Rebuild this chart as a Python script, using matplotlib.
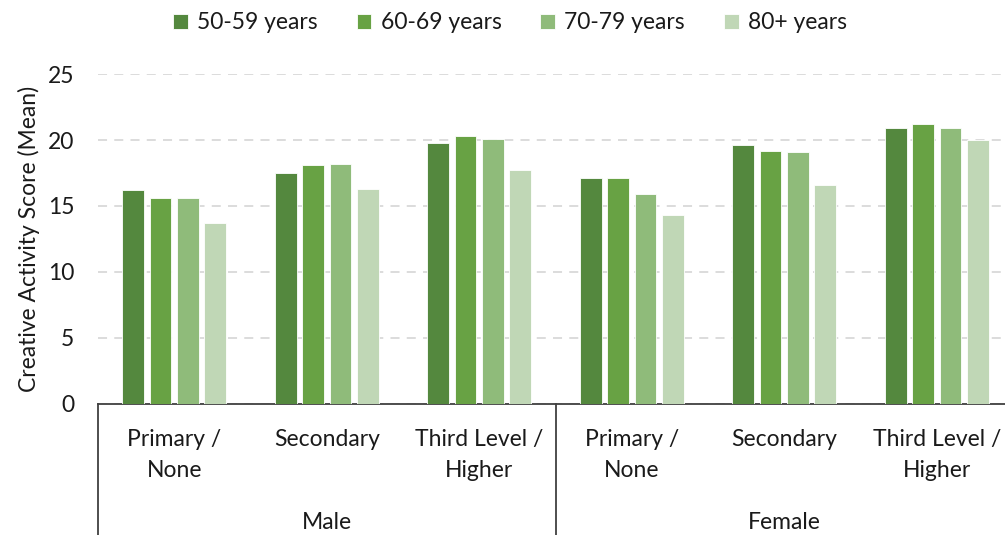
import numpy as np
import matplotlib as mpl
mpl.use("Agg")
import matplotlib.pyplot as plt

plt.rcParams["font.family"] = ["Lato", "DejaVu Sans"]

# data
genders = ["Male", "Female"]
education = ["Primary /\nNone", "Secondary", "Third Level /\nHigher"]
age_groups = ["50-59 years", "60-69 years", "70-79 years", "80+ years"]
colors = ["#54883e", "#68a244", "#8fbb7a", "#c0d7b6"]

# per age group: Male (Primary, Secondary, Third), Female (same)
scores = {
    "50-59 years": [16.2, 17.5, 19.8, 17.1, 19.6, 20.9],
    "60-69 years": [15.6, 18.1, 20.3, 17.1, 19.2, 21.2],
    "70-79 years": [15.6, 18.2, 20.1, 15.9, 19.1, 20.9],
    "80+ years":   [13.7, 16.3, 17.7, 14.3, 16.6, 20.0],
}

FS = 16.5
TXT = "#1a1a1a"
W, H = 1005, 535
fig = plt.figure(figsize=(W / 100, H / 100), dpi=100)
ax = fig.add_axes([98 / W, (H - 404) / H, (1013 - 98) / W, (404 - 74) / H])

n_cat = len(genders) * len(education)
x = np.arange(n_cat)
step = 0.179
width = 0.142
for i, age in enumerate(age_groups):
    off = (i - 1.5) * step
    ax.bar(x + off, scores[age], width, color=colors[i], label=age,
           edgecolor="#ffffff", linewidth=0.6, zorder=3)

ax.set_xlim(-0.5, n_cat - 0.5)
ax.set_ylim(0, 25)
ax.set_yticks(np.arange(0, 26, 5))
ax.yaxis.grid(True, linestyle=(0, (5, 4)), color="#d9d9d9", linewidth=1.3, zorder=0)
ax.set_axisbelow(True)
for side in ["left", "right", "top"]:
    ax.spines[side].set_visible(False)
ax.spines["bottom"].set_color("#404040")
ax.spines["bottom"].set_linewidth(1.3)

ax.tick_params(axis="y", length=0, pad=17, labelsize=FS, labelcolor=TXT)
ax.set_xticks(x)
ax.set_xticklabels(education * len(genders), fontsize=FS, color=TXT,
                   linespacing=1.6)
ax.tick_params(axis="x", length=0, pad=18)

ax.set_ylabel("Creative Activity Score (Mean)", fontsize=FS, color=TXT,
              labelpad=6)

# separators and group labels under the axis
trans = ax.get_xaxis_transform()
for xs in [-0.5, 2.5, 5.5]:
    ax.plot([xs, xs], [0, -0.42], transform=trans, color="#404040",
            linewidth=1.3, clip_on=False)
for g, name in enumerate(genders):
    ax.text(g * 3 + 1, -0.36, name, transform=trans, ha="center", va="center",
            fontsize=FS, color=TXT)

fig.legend(loc="center", bbox_to_anchor=(510 / W, 1 - 23 / H), ncol=4,
           frameon=False, fontsize=FS, handlelength=0.65, handleheight=0.65,
           handletextpad=0.4, columnspacing=1.7, labelcolor=TXT)

fig.savefig("out.png", dpi=100)
